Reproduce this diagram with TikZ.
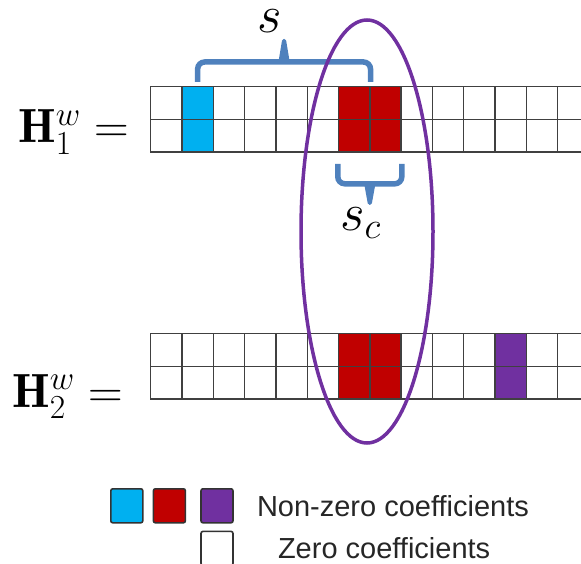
\RequirePackage{fix-cm}
\documentclass[tikz,border=0pt]{standalone}
\usepackage{fontspec}
\newfontfamily\legendfont{Liberation Sans}
\usetikzlibrary{calc, positioning}
\definecolor{nzblue}{RGB}{0,176,240}
\definecolor{nzred}{RGB}{192,0,0}
\definecolor{nzpurple}{RGB}{112,48,160}
\definecolor{bracecol}{RGB}{79,129,189}

\begin{document}
\begin{tikzpicture}[
    x=1pt, y=-1pt,
    cell/.style={rectangle, draw=black!75, line width=1.4pt, minimum width=31.3pt, minimum height=32.7pt, inner sep=0pt, anchor=north west},
    key/.style={rectangle, rounded corners=2pt, draw=black!80, line width=1.6pt, minimum width=32pt, minimum height=34pt, inner sep=0pt, anchor=north west},
    brace/.style={draw=bracecol, line width=5.5pt, rounded corners=7pt},
    lasso/.style={draw=nzpurple, line width=3.5pt},
    mathlbl/.style={inner sep=0pt, anchor=base west, font=\fontsize{48}{56}\selectfont},
    setlbl/.style={inner sep=0pt, font=\fontsize{53}{58}\selectfont},
    keytext/.style={inner sep=0pt, font=\legendfont\fontsize{29}{34}\selectfont, text=black!85}
]
\clip (0,0) rectangle (581,564);

% first filter: two rows of coefficients
\foreach \i/\fc in {0/white,1/nzblue,2/white,3/white,4/white,5/white,6/nzred,7/nzred,8/white,9/white,10/white,11/white,12/white,13/white} {
    \node[cell, fill=\fc] (h1a\i) at (150+\i*31.3, 86) {};
    \node[cell, fill=\fc] (h1b\i) at (150+\i*31.3, 118.7) {};
}
% second filter
\foreach \i/\fc in {0/white,1/white,2/white,3/white,4/white,5/white,6/nzred,7/nzred,8/white,9/white,10/white,11/nzpurple,12/white,13/white} {
    \node[cell, fill=\fc] (h2a\i) at (150+\i*31.3, 333) {};
    \node[cell, fill=\fc] (h2b\i) at (150+\i*31.3, 365.7) {};
}

\node[mathlbl] (h1lbl) at (18,143) {$\mathbf{H}_1^w =$};
\node[mathlbl] (h2lbl) at (12,407) {$\mathbf{H}_2^w =$};

% brace over the support s
\draw[brace] ([yshift=4pt]h1a1.north) |- ([yshift=24pt]h1a6.north east) -- ([yshift=4pt]h1a6.north east);
\coordinate (stip) at ($([yshift=24pt]h1a1.north)!.5!([yshift=24pt]h1a6.north east)$);
\fill[bracecol, rounded corners=1.5pt] ([xshift=-6pt,yshift=-2pt]stip) -- ([xshift=-1.8pt,yshift=23pt]stip) -- ([xshift=1.8pt,yshift=23pt]stip) -- ([xshift=6pt,yshift=-2pt]stip) -- cycle;
\node[setlbl, anchor=base] (slbl) at (270,33) {$s$};

% brace under the common part s_c
\draw[brace] ([yshift=-11pt]h1b6.south west) |- ([yshift=-31pt]h1b7.south east) -- ([yshift=-11pt]h1b7.south east);
\coordinate (sctip) at ($([yshift=-31pt]h1b6.south west)!.5!([yshift=-31pt]h1b7.south east)$);
\fill[bracecol, rounded corners=1.5pt] ([xshift=-6pt,yshift=2pt]sctip) -- ([xshift=-1.8pt,yshift=-21pt]sctip) -- ([xshift=1.8pt,yshift=-21pt]sctip) -- ([xshift=6pt,yshift=2pt]sctip) -- cycle;
\node[setlbl, anchor=base west] (sclbl) at (340,231) {$s_c$};

% shared coefficients
\draw[lasso] (367,231.5) ellipse [x radius=66, y radius=211.5];

% legend
\node[key, fill=nzblue] (kblue) at (110,488) {};
\node[key, fill=nzred, right=9pt of kblue] (kred) {};
\node[key, fill=nzpurple, right=14pt of kred] (kpurple) {};
\node[key, fill=white, below=7pt of kpurple] (kwhite) {};
\node[keytext, right=23pt of kpurple] (nztext) {Non-zero coefficients};
\node[keytext, right=44pt of kwhite] (ztext) {Zero coefficients};

\end{tikzpicture}
\end{document}
